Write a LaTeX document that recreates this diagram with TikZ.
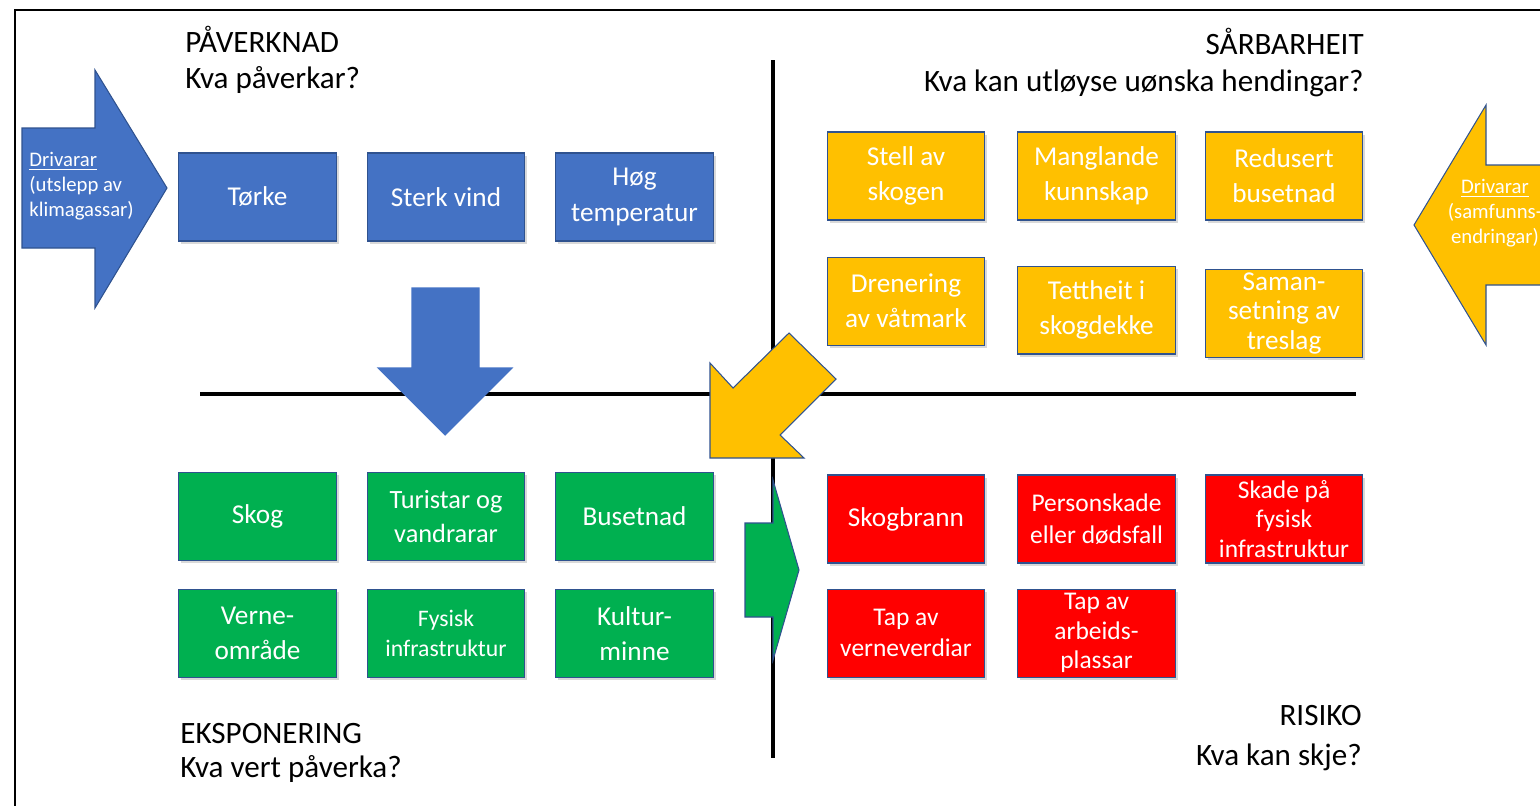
\documentclass[tikz,border=0pt]{standalone}
\usepackage{fontspec}
\setmainfont{Carlito}
\usepackage{xcolor}
\usetikzlibrary{positioning, shadows}

\definecolor{impactblue}{HTML}{4472C4}
\definecolor{edgeblue}{HTML}{2F528F}
\definecolor{weakyellow}{HTML}{FFC000}
\definecolor{exposedgreen}{HTML}{00B050}
\definecolor{riskred}{HTML}{FF0000}

\begin{document}
\begin{tikzpicture}[
    x=0.02cm, y=-0.02cm,
    box/.style={rectangle, draw=edgeblue, line width=0.6pt, text=white, minimum width=3.15cm, minimum height=1.76cm, inner sep=2pt, align=center, font=\fontsize{15.5}{20}\selectfont, drop shadow={shadow xshift=1.5pt, shadow yshift=-1.5pt, opacity=0.3}},
    impact/.style={box, fill=impactblue},
    weak/.style={box, fill=weakyellow},
    exposed/.style={box, fill=exposedgreen},
    risk/.style={box, fill=riskred},
    smaller/.style={font=\fontsize{14.5}{18}\selectfont},
    tighter/.style={font=\fontsize{14.5}{16.8}\selectfont},
    heading/.style={font=\fontsize{17.7}{21}\selectfont, inner sep=0pt},
    drivtext/.style={text=white, font=\fontsize{11.8}{14.2}\selectfont, inner sep=0pt},
    blockarrow/.style={draw=edgeblue, line width=0.6pt},
    axis/.style={line width=2.3pt, black}
]
\useasboundingbox (0,0) rectangle (1540,805);
\clip (0,0) rectangle (1540,805);

% frame and axes
\draw[line width=1.1pt] (15,830) -- (15,10) -- (1570,10);
\draw[axis] (200,394) -- (1356,394);
\draw[axis] (773,60) -- (773,758);

% block arrows
\filldraw[blockarrow, fill=impactblue] (22,128) -- (95,128) -- (95,70) -- (167,188) -- (95,308) -- (95,248) -- (22,248) -- cycle;
\filldraw[blockarrow, fill=weakyellow] (1414,225) -- (1486,105) -- (1486,165) -- (1570,165) -- (1570,285) -- (1486,285) -- (1486,345) -- cycle;
\filldraw[blockarrow, draw=impactblue, fill=impactblue] (412,288) -- (479,288) -- (479,368) -- (512,368) -- (445,435) -- (378,368) -- (412,368) -- cycle;
\filldraw[blockarrow, fill=weakyellow] (789,333) -- (836,379) -- (780,435) -- (804,458) -- (710,458) -- (710,363) -- (733,388) -- cycle;
\filldraw[blockarrow, fill=exposedgreen] (745,523) -- (773,523) -- (773,480) -- (799,570) -- (773,660) -- (773,617) -- (745,617) -- cycle;

\node[drivtext, anchor=west, align=left] (drivleft) at (29,186) {\underline{Drivarar}\\(utslepp av\\klimagassar)};
\node[drivtext, align=center] (drivright) at (1495,213) {\underline{Drivarar}\\(samfunns-\\endringar)};

% PÅVERKNAD
\node[impact] (torke) at (257.5,197) {Tørke};
\node[impact, right=0.6cm of torke] (vind) {Sterk vind};
\node[impact, right=0.6cm of vind] (temp) {Høg\\temperatur};

% SÅRBARHEIT
\node[weak] (stell) at (906,176) {Stell av\\skogen};
\node[weak, right=0.64cm of stell] (kunnskap) {Manglande\\kunnskap};
\node[weak, right=0.58cm of kunnskap] (busetnadred) {Redusert\\busetnad};
\node[weak, below=0.72cm of stell] (drenering) {Drenering\\av våtmark};
\node[weak, below=0.9cm of kunnskap] (tettheit) {Tettheit i\\skogdekke};
\node[weak, tighter, font=\fontsize{15.5}{16.8}\selectfont, below=0.96cm of busetnadred] (treslag) {Saman-\\setning av\\treslag};

% EKSPONERING
\node[exposed] (skog) at (257.5,516.5) {Skog};
\node[exposed, smaller, font=\fontsize{15}{19.5}\selectfont, right=0.6cm of skog] (turistar) {Turistar og\\vandrarar};
\node[exposed, right=0.6cm of turistar] (busetnad) {Busetnad};
\node[exposed, below=0.56cm of skog] (verne) {Verne-\\område};
\node[exposed, tighter, font=\fontsize{13.5}{16.8}\selectfont, below=0.56cm of turistar] (fysisk) {Fysisk\\infrastruktur};
\node[exposed, below=0.56cm of busetnad] (kultur) {Kultur-\\minne};

% RISIKO
\node[risk] (brann) at (906,519) {Skogbrann};
\node[risk, smaller, right=0.64cm of brann] (person) {Personskade\\eller dødsfall};
\node[risk, tighter, right=0.58cm of person] (skade) {Skade på\\fysisk\\infrastruktur};
\node[risk, smaller, below=0.5cm of brann] (verneverdi) {Tap av\\verneverdiar};
\node[risk, tighter, below=0.5cm of person] (arbeid) {Tap av\\arbeids-\\plassar};

% headings
\node[heading, anchor=base west] (paverknad) at (185,52) {PÅVERKNAD};
\node[heading, anchor=base west] (paverknadq) at (185,88) {Kva påverkar?};
\node[heading, anchor=base east] (sarbarheit) at (1364,54) {SÅRBARHEIT};
\node[heading, anchor=base east] (sarbarheitq) at (1364,91) {Kva kan utløyse uønska hendingar?};
\node[heading, anchor=base west] (eksponering) at (180,743) {EKSPONERING};
\node[heading, anchor=base west] (eksponeringq) at (180,777) {Kva vert påverka?};
\node[heading, anchor=base east] (risiko) at (1362,725) {RISIKO};
\node[heading, anchor=base east] (risikoq) at (1362,765) {Kva kan skje?};

\end{tikzpicture}
\end{document}
